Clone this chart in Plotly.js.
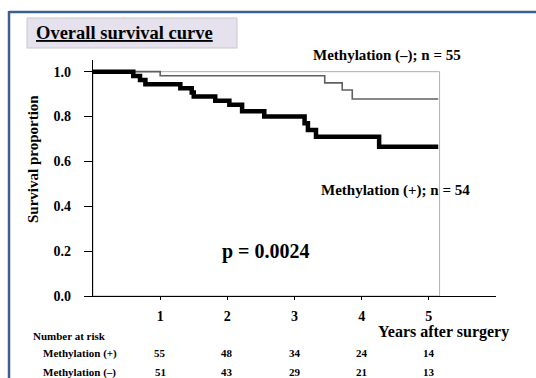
<!DOCTYPE html>
<html><head><meta charset="utf-8">
<script src="https://cdn.plot.ly/plotly-3.0.1.min.js"></script>
<style>html,body{margin:0;padding:0;background:#fff}#chart{width:536px;height:378px}</style>
</head><body><div id="chart"></div>
<script>
// Kaplan-Meier step data (years, survival proportion)
const minusTimes = [0, 1.0, 3.45, 3.71, 3.86, 5.14];
const minusSurv  = [1.0, 0.982, 0.950, 0.918, 0.878, 0.878];
const plusTimes  = [0, 0.6, 0.7, 0.78, 1.3, 1.47, 1.5, 1.82, 2.03, 2.22, 2.55, 3.15, 3.2, 3.32, 4.26, 5.14];
const plusSurv   = [1.0, 0.981, 0.963, 0.944, 0.926, 0.907, 0.889, 0.870, 0.852, 0.824, 0.800, 0.770, 0.740, 0.710, 0.665, 0.665];
const yearTicks = [1, 2, 3, 4, 5];
const yTicks = [0, 0.2, 0.4, 0.6, 0.8, 1.0];
const yTickLabels = ['0.0', '0.2', '0.4', '0.6', '0.8', '1.0'];
const riskPlus  = [55, 48, 34, 24, 14];
const riskMinus = [51, 43, 29, 21, 13];
const rowLabels = ['Methylation (+)', 'Methylation (\u2013)'];
const groupLabels = ['Methylation (\u2013); n = 55', 'Methylation (+); n = 54'];
const pText = 'p = 0.0024';

const W = 536, H = 378, L = 93, R = 40, T = 60, B = 82;
const pw = W - L - R, ph = H - T - B;
const px = x => (x - L) / pw;
const py = y => (H - B - y) / ph;
const FONT = 'Liberation Serif, Times New Roman, serif';
const bf = (size, color) => ({family: FONT, size: size, color: color || '#000', weight: 'bold'});

const traces = [
  {x: minusTimes, y: minusSurv, type: 'scatter', mode: 'lines', line: {shape: 'hv', color: '#606060', width: 1.6}, hoverinfo: 'skip'},
  {x: plusTimes, y: plusSurv, type: 'scatter', mode: 'lines', line: {shape: 'hv', color: '#000', width: 4.5}, hoverinfo: 'skip'}
];

const ann = [];
const A = (text, x, y, size, xanchor, extra) => ann.push(Object.assign({
  text: text, xref: 'paper', yref: 'paper', x: px(x), y: py(y), xanchor: xanchor || 'center', yanchor: 'middle',
  showarrow: false, font: bf(size)
}, extra || {}));

A('<u>Overall survival curve</u>', 34, 33, 18.5, 'left');
A(groupLabels[0], 387, 55, 15);
A(groupLabels[1], 395, 190, 15);
A(pText, 266, 251, 20);
A('Years after surgery', 443, 332, 16);
A('Number at risk', 31, 336, 11, 'left');
A(rowLabels[0], 41, 353, 11, 'left');
A(rowLabels[1], 41, 372, 11, 'left');
yearTicks.forEach((t, i) => {
  ann.push({text: String(riskPlus[i]), xref: 'x', yref: 'paper', x: t, y: py(353), showarrow: false, font: bf(11), xanchor: 'center', yanchor: 'middle'});
  ann.push({text: String(riskMinus[i]), xref: 'x', yref: 'paper', x: t, y: py(372), showarrow: false, font: bf(11), xanchor: 'center', yanchor: 'middle'});
});
ann.push({text: 'Survival proportion', xref: 'paper', yref: 'paper', x: px(33), y: py(159), textangle: -90,
  showarrow: false, font: bf(15), xanchor: 'center', yanchor: 'middle'});

const shapes = [
  // title box
  {type: 'rect', xref: 'paper', yref: 'paper', x0: px(27), x1: px(237), y0: py(48), y1: py(18),
   fillcolor: '#e5e1ed', line: {color: '#c8c8c8', width: 1}, layer: 'below'},
  // blue frame
  {type: 'line', xref: 'paper', yref: 'paper', x0: px(9), x1: px(540), y0: py(12), y1: py(12), line: {color: '#3c5f8f', width: 2.5}},
  {type: 'line', xref: 'paper', yref: 'paper', x0: px(9), x1: px(9), y0: py(11), y1: py(380), line: {color: '#3c5f8f', width: 2.5}},
  // gray frame
  {type: 'rect', xref: 'x', yref: 'y', x0: 0, x1: 5.16, y0: 0, y1: 1.0, line: {color: '#b0b0b0', width: 1}, layer: 'below'}
];

const layout = {
  width: W, height: H,
  margin: {l: L, r: R, t: T, b: B, pad: 0},
  paper_bgcolor: '#fff', plot_bgcolor: '#fff',
  showlegend: false,
  xaxis: {range: [0, 6], tickvals: yearTicks, ticktext: yearTicks.map(String), ticks: 'outside', ticklen: 3,
    tickcolor: '#000', showline: true, linecolor: '#000', linewidth: 1.2, showgrid: false, zeroline: false,
    tickfont: bf(14), ticklabelstandoff: 4, fixedrange: true},
  yaxis: {range: [0, 1.052], tickvals: yTicks, ticktext: yTickLabels, ticks: 'outside', ticklen: 8,
    tickcolor: '#000', showline: true, linecolor: '#000', linewidth: 1.2, showgrid: false, zeroline: false,
    tickfont: bf(14), ticklabelstandoff: 10, fixedrange: true},
  annotations: ann,
  shapes: shapes
};

Plotly.newPlot('chart', traces, layout, {displayModeBar: false, staticPlot: true});
</script></body></html>
